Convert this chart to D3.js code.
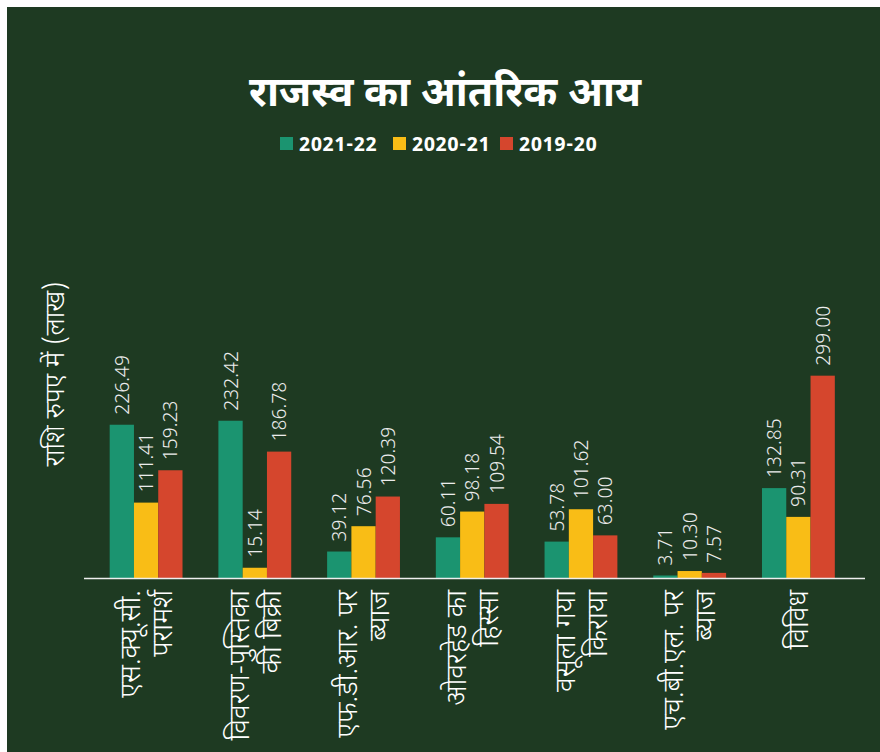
<!DOCTYPE html>
<html>
<head>
<meta charset="utf-8">
<script src="https://cdn.jsdelivr.net/npm/d3@7"></script>
<style>
    body { margin: 0; background: #fff; }
    svg text { font-family: "Noto Sans Devanagari", "Open Sans", "Noto Sans", sans-serif; }
</style>
</head>
<body>
<div id="chart"></div>
<script type="text/javascript">
    // Data
    categories = ["एस.क्यू.सी. परामर्श", "विवरण-पुस्तिका की बिक्री", "एफ.डी.आर. पर ब्याज", "ओवरहेड का हिस्सा", "वसूला गया किराया", "एच.बी.एल. पर ब्याज", "विविध"]
    catLines = [["एस.क्यू.सी.", "परामर्श"], ["विवरण-पुस्तिका", "की बिक्री"], ["एफ.डी.आर. पर", "ब्याज"], ["ओवरहेड का", "हिस्सा"], ["वसूला गया", "किराया"], ["एच.बी.एल. पर", "ब्याज"], ["विविध"]]
    years = ["2021-22", "2020-21", "2019-20"]
    v_2021_22 = [226.49, 232.42, 39.12, 60.11, 53.78, 3.71, 132.85]
    v_2020_21 = [111.41, 15.14, 76.56, 98.18, 101.62, 10.30, 90.31]
    v_2019_20 = [159.23, 186.78, 120.39, 109.54, 63.00, 7.57, 299.00]
    colors = ["#1b9470", "#f9bd16", "#d5462d"]

    title = "राजस्व का आंतरिक आय"
    yTitle = "राशि रुपए में (लाख)"

    canvas = ({width: 880, height: 752})
    bg = "#1e3a22"

    series = [v_2021_22, v_2020_21, v_2019_20]
    data = categories.map((c, i) => ({cat: c, lines: catLines[i], values: series.map((s, j) => ({year: years[j], v: s[i]}))}))

    // Scales
    x0 = d3.scaleBand()
        .domain(categories)
        .range([82.5, 862])
        .paddingInner(0.33)
        .paddingOuter(0.25)

    x1 = d3.scaleBand()
        .domain(years)
        .range([0, x0.bandwidth()])

    y = d3.scaleLinear()
        .domain([0, 300])
        .range([578, 375])

    color = d3.scaleOrdinal().domain(years).range(colors)

    var svg = d3.select("#chart").append("svg")
        .attr("width", canvas.width)
        .attr("height", canvas.height)

    svg.append("rect")
        .attr("x", 7).attr("y", 7)
        .attr("width", canvas.width - 7)
        .attr("height", canvas.height - 7)
        .attr("fill", bg)

    // Title
    svg.append("text")
        .attr("x", 445).attr("y", 106)
        .attr("text-anchor", "middle")
        .attr("fill", "#fff")
        .attr("font-size", 41)
        .attr("font-weight", "bold")
        .text(title)

    // Legend
    legendX = [280, 393, 500]
    var legend = svg.append("g")
    years.forEach((yr, i) => {
        legend.append("rect")
            .attr("x", legendX[i]).attr("y", 137)
            .attr("width", 13).attr("height", 13)
            .attr("fill", color(yr))
        legend.append("text")
            .attr("x", legendX[i] + 19).attr("y", 151)
            .attr("fill", "#fff")
            .attr("font-size", 20)
            .attr("font-weight", "bold")
            .attr("letter-spacing", 0.4)
            .text(yr)
    })

    // Y title
    svg.append("text")
        .attr("transform", "translate(64,374) rotate(-90)")
        .attr("text-anchor", "middle")
        .attr("fill", "#fff")
        .attr("font-size", 27)
        .attr("font-weight", 300)
        .text(yTitle)

    // Bars
    var groups = svg.append("g")
        .selectAll("g")
        .data(data)
        .join("g")
        .attr("transform", d => `translate(${x0(d.cat)},0)`)

    groups.selectAll("rect")
        .data(d => d.values)
        .join("rect")
        .attr("x", d => x1(d.year))
        .attr("y", d => y(d.v))
        .attr("width", x1.bandwidth())
        .attr("height", d => y(0) - y(d.v))
        .attr("fill", d => color(d.year))

    groups.selectAll("text.val")
        .data(d => d.values)
        .join("text")
        .attr("class", "val")
        .attr("transform", d => `translate(${x1(d.year) + x1.bandwidth() / 2},${y(d.v) - 10}) rotate(-90)`)
        .attr("dy", "0.35em")
        .attr("fill", "#ececec")
        .attr("font-size", 20)
        .attr("font-weight", 300)
        .text(d => d.v.toFixed(2))

    // Axis line
    svg.append("line")
        .attr("x1", 84).attr("x2", 865)
        .attr("y1", y(0) + 0.5).attr("y2", y(0) + 0.5)
        .attr("stroke", "#eee")
        .attr("stroke-width", 1.5)

    // Category labels
    lineGap = 32
    groups.each(function(d) {
        var g = d3.select(this)
        var n = d.lines.length
        d.lines.forEach((ln, k) => {
            var cx = x0.bandwidth() / 2 + (k - (n - 1) / 2) * lineGap
            g.append("text")
                .attr("transform", `translate(${cx},${y(0) + 12}) rotate(-90)`)
                .attr("text-anchor", "end")
                .attr("dy", "0.35em")
                .attr("fill", "#fff")
                .attr("font-size", 28)
                .attr("font-weight", 300)
                .text(ln)
        })
    })
</script>
</body>
</html>
